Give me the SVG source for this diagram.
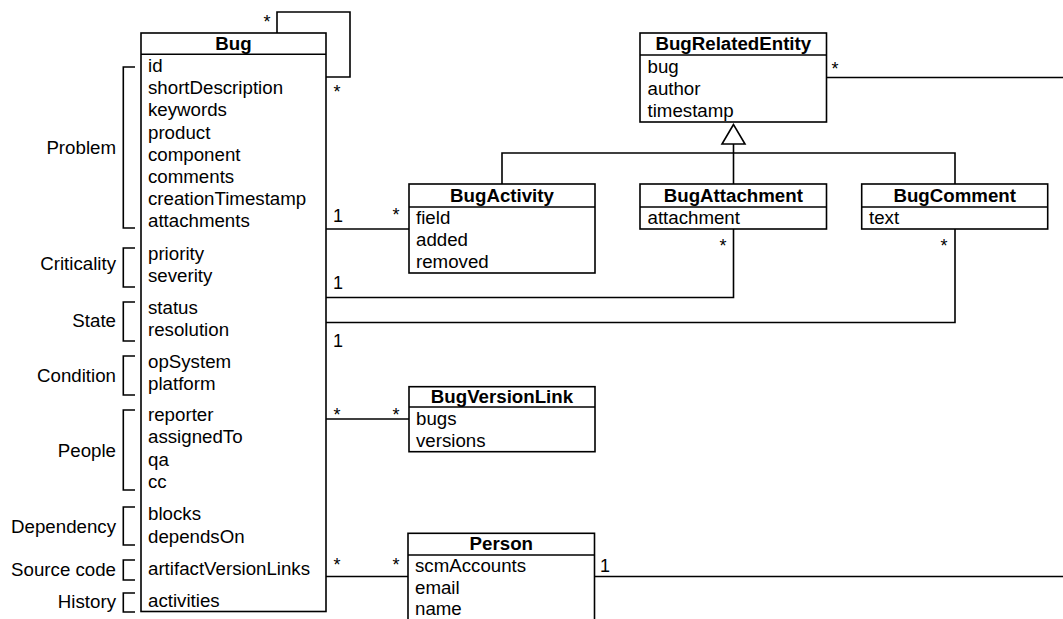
<svg xmlns="http://www.w3.org/2000/svg" width="1063" height="619" viewBox="0 0 1063 619">
  <style>
    text { font-family: "Liberation Sans", Arial, Helvetica, sans-serif; font-size: 18.7px; fill: #000; }
    .title { font-weight: bold; text-anchor: middle; }
    .lbl { text-anchor: end; }
    .mult { font-size: 18px; }
    .star { font-size: 18px; text-anchor: middle; }
    .box { fill: #fff; stroke: #000; stroke-width: 1.6; }
    .sep, .conn, .brk { fill: none; stroke: #000; stroke-width: 1.6; }
    .tri { fill: #fff; stroke: #000; stroke-width: 1.6; stroke-linejoin: miter; }
  </style>

  <!-- associations and generalization -->
  <g id="connectors">
    <!-- Bug self-association -->
    <polyline class="conn" points="277,33 277,12 350,12 350,77 326,77"/>
    <text class="star" x="267" y="28">*</text>
    <text class="star" x="337" y="98">*</text>
    <!-- Bug - BugActivity -->
    <line class="conn" x1="326" y1="229" x2="409" y2="229"/>
    <text class="mult" x="333" y="222">1</text>
    <text class="star" x="396" y="221">*</text>
    <!-- Bug - BugAttachment -->
    <polyline class="conn" points="326,297.5 733.5,297.5 733.5,229"/>
    <text class="mult" x="333" y="289">1</text>
    <text class="star" x="723" y="252">*</text>
    <!-- Bug - BugComment -->
    <polyline class="conn" points="326,322.5 955,322.5 955,229"/>
    <text class="mult" x="333" y="346.5">1</text>
    <text class="star" x="944" y="252">*</text>
    <!-- Bug - BugVersionLink -->
    <line class="conn" x1="326" y1="419" x2="409" y2="419"/>
    <text class="star" x="337" y="421">*</text>
    <text class="star" x="396" y="421">*</text>
    <!-- Bug - Person -->
    <line class="conn" x1="326" y1="576.5" x2="408" y2="576.5"/>
    <text class="star" x="337" y="571">*</text>
    <text class="star" x="396" y="571">*</text>
    <!-- Person - (right) -->
    <line class="conn" x1="594.5" y1="576.5" x2="1063" y2="576.5"/>
    <text class="mult" x="600" y="571.5">1</text>
    <!-- BugRelatedEntity - (right) -->
    <line class="conn" x1="826.5" y1="77.5" x2="1063" y2="77.5"/>
    <text class="star" x="835" y="74.5">*</text>
    <!-- generalization tree -->
    <polyline class="conn" points="502,184 502,153 955,153 955,184"/>
    <line class="conn" x1="733.5" y1="144" x2="733.5" y2="184"/>
    <polygon class="tri" points="733.5,124.5 722,144 745,144"/>
  </g>

  <!-- Bug class with grouped attributes -->
  <g id="bug">
    <rect class="box" x="141" y="33" width="185" height="578.5"/>
    <line class="sep" x1="141" y1="54.3" x2="326" y2="54.3"/>
    <text class="title" x="233.5" y="50">Bug</text>
    <text x="148" y="72">id</text>
    <text x="148" y="94">shortDescription</text>
    <text x="148" y="116.3">keywords</text>
    <text x="148" y="138.5">product</text>
    <text x="148" y="160.7">component</text>
    <text x="148" y="183">comments</text>
    <text x="148" y="205">creationTimestamp</text>
    <text x="148" y="227">attachments</text>
    <text x="148" y="259.5">priority</text>
    <text x="148" y="281.5">severity</text>
    <text x="148" y="313.5">status</text>
    <text x="148" y="335.5">resolution</text>
    <text x="148" y="367.5">opSystem</text>
    <text x="148" y="389.5">platform</text>
    <text x="148" y="420.5">reporter</text>
    <text x="148" y="443">assignedTo</text>
    <text x="148" y="465.5">qa</text>
    <text x="148" y="488">cc</text>
    <text x="148" y="520">blocks</text>
    <text x="148" y="542.5">dependsOn</text>
    <text x="148" y="575">artifactVersionLinks</text>
    <text x="148" y="607">activities</text>
  </g>

  <!-- attribute group brackets -->
  <g id="groups">
    <polyline class="brk" points="135,67 123.3,67 123.3,228 135,228"/>
    <text class="lbl" x="116" y="153.5">Problem</text>
    <polyline class="brk" points="135,248 123.3,248 123.3,287 135,287"/>
    <text class="lbl" x="116" y="270">Criticality</text>
    <polyline class="brk" points="135,302 123.3,302 123.3,341 135,341"/>
    <text class="lbl" x="116" y="327">State</text>
    <polyline class="brk" points="135,356 123.3,356 123.3,395 135,395"/>
    <text class="lbl" x="116" y="382">Condition</text>
    <polyline class="brk" points="135,410 123.3,410 123.3,490 135,490"/>
    <text class="lbl" x="116" y="456.5">People</text>
    <polyline class="brk" points="135,507 123.3,507 123.3,545 135,545"/>
    <text class="lbl" x="116" y="532.5">Dependency</text>
    <polyline class="brk" points="135,560 123.3,560 123.3,580 135,580"/>
    <text class="lbl" x="116" y="576">Source code</text>
    <polyline class="brk" points="135,593 123.3,593 123.3,612 135,612"/>
    <text class="lbl" x="116" y="607.5">History</text>
  </g>

  <g id="bugRelatedEntity">
    <rect class="box" x="640" y="33" width="186.5" height="89"/>
    <line class="sep" x1="640" y1="55" x2="826.5" y2="55"/>
    <text class="title" x="733.3" y="50">BugRelatedEntity</text>
    <text x="647.5" y="72.7">bug</text>
    <text x="647.5" y="95">author</text>
    <text x="647.5" y="116.7">timestamp</text>
  </g>

  <g id="bugActivity">
    <rect class="box" x="409" y="184" width="186" height="89"/>
    <line class="sep" x1="409" y1="207" x2="595" y2="207"/>
    <text class="title" x="502" y="201.5">BugActivity</text>
    <text x="416" y="223.5">field</text>
    <text x="416" y="246">added</text>
    <text x="416" y="268">removed</text>
  </g>

  <g id="bugAttachment">
    <rect class="box" x="640" y="184" width="186.5" height="45"/>
    <line class="sep" x1="640" y1="207" x2="826.5" y2="207"/>
    <text class="title" x="733.3" y="201.5">BugAttachment</text>
    <text x="647.5" y="223.5">attachment</text>
  </g>

  <g id="bugComment">
    <rect class="box" x="861.7" y="184" width="186" height="45"/>
    <line class="sep" x1="861.7" y1="207" x2="1047.7" y2="207"/>
    <text class="title" x="954.7" y="201.5">BugComment</text>
    <text x="869" y="223.5">text</text>
  </g>

  <g id="bugVersionLink">
    <rect class="box" x="409" y="386.7" width="186" height="65"/>
    <line class="sep" x1="409" y1="407" x2="595" y2="407"/>
    <text class="title" x="502" y="403">BugVersionLink</text>
    <text x="416" y="425">bugs</text>
    <text x="416" y="446.7">versions</text>
  </g>

  <g id="person">
    <rect class="box" x="408" y="533.3" width="186.5" height="110"/>
    <line class="sep" x1="408" y1="555" x2="594.5" y2="555"/>
    <text class="title" x="501.3" y="550">Person</text>
    <text x="415" y="571.7">scmAccounts</text>
    <text x="415" y="594">email</text>
    <text x="415" y="615">name</text>
  </g>
</svg>
